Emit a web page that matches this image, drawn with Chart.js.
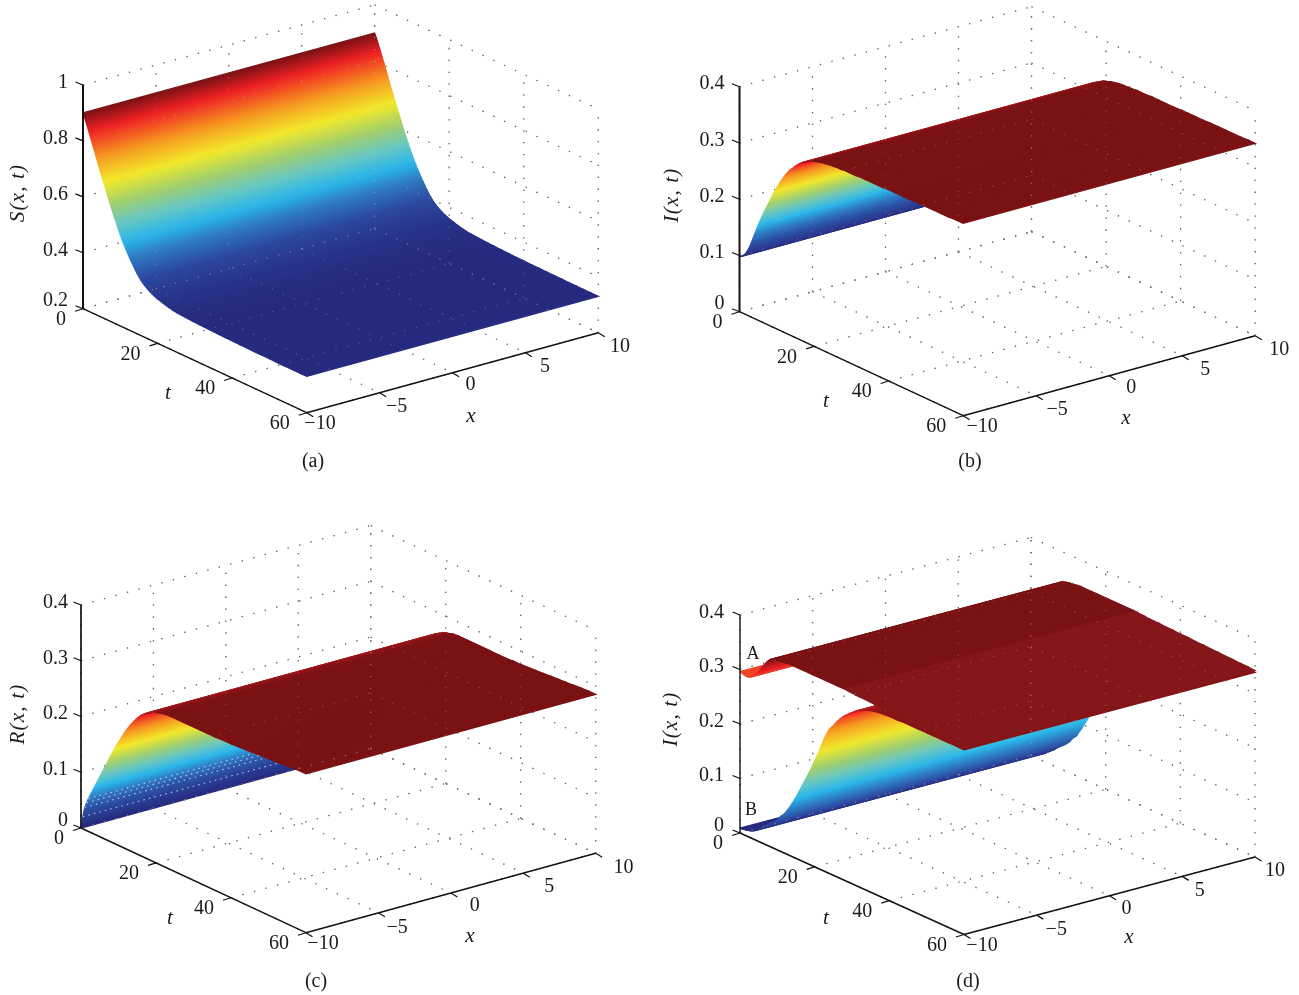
<!DOCTYPE html>
<html>
<head>
<meta charset="utf-8">
<title>Surfaces</title>
<script src="https://cdn.jsdelivr.net/npm/chart.js@4/dist/chart.umd.min.js"></script>
<style>
  html, body { margin: 0; padding: 0; background: #fff; }
  body { position: relative; width: 1299px; height: 995px; overflow: hidden; }
  canvas { position: absolute; }
</style>
</head>
<body>
<canvas id="panelA" style="left:0;top:0" width="650" height="490"></canvas>
<canvas id="panelB" style="left:650px;top:0" width="649" height="490"></canvas>
<canvas id="panelC" style="left:0;top:490px" width="650" height="505"></canvas>
<canvas id="panelD" style="left:650px;top:490px" width="649" height="505"></canvas>
<script>
const xTicks = [-10, -5, 0, 5, 10];
const tTicks = [0, 20, 40, 60];
const zTicksS = [0.2, 0.4, 0.6, 0.8, 1];
const zTicksI = [0, 0.1, 0.2, 0.3, 0.4];

const tValues = [0, 0.5, 1, 1.5, 2, 2.5, 3, 3.5, 4, 4.5, 5, 5.5, 6, 6.5, 7, 7.5, 8, 8.5, 9, 9.5,
  10, 10.5, 11, 11.5, 12, 12.5, 13, 13.5, 14, 14.5, 15, 15.5, 16, 16.5, 17, 17.5, 18, 18.5, 19, 19.5,
  20, 20.5, 21, 21.5, 22, 22.5, 23, 23.5, 24, 24.5, 25, 25.5, 26, 26.5, 27, 27.5, 28, 28.5, 29, 29.5,
  30, 30.5, 31, 31.5, 32, 34, 36, 38, 40, 42, 44, 46, 48, 50, 52, 54, 56, 58, 60];

const sValues = [0.900, 0.884, 0.865, 0.846, 0.826, 0.807, 0.787, 0.767, 0.746, 0.726, 0.707, 0.688, 0.669, 0.650, 0.631, 0.612, 0.594, 0.577, 0.560, 0.543,
  0.527, 0.512, 0.498, 0.485, 0.472, 0.460, 0.448, 0.437, 0.426, 0.416, 0.407, 0.399, 0.392, 0.386, 0.381, 0.376, 0.372, 0.368, 0.365, 0.362,
  0.359, 0.357, 0.355, 0.353, 0.351, 0.349, 0.347, 0.346, 0.344, 0.343, 0.342, 0.341, 0.341, 0.340, 0.340, 0.339, 0.339, 0.338, 0.338, 0.337,
  0.337, 0.337, 0.336, 0.336, 0.336, 0.335, 0.334, 0.333, 0.333, 0.332, 0.332, 0.331, 0.331, 0.331, 0.330, 0.330, 0.330, 0.330, 0.330];

const iValues = [0.098, 0.100, 0.103, 0.107, 0.113, 0.120, 0.129, 0.139, 0.149, 0.159, 0.169, 0.178, 0.187, 0.196, 0.204, 0.212, 0.220, 0.228, 0.236, 0.244,
  0.251, 0.258, 0.265, 0.271, 0.277, 0.283, 0.288, 0.293, 0.297, 0.301, 0.305, 0.309, 0.312, 0.315, 0.318, 0.320, 0.322, 0.324, 0.326, 0.328,
  0.329, 0.330, 0.331, 0.332, 0.333, 0.334, 0.334, 0.335, 0.335, 0.336, 0.336, 0.336, 0.337, 0.337, 0.337, 0.337, 0.338, 0.338, 0.338, 0.338,
  0.338, 0.338, 0.338, 0.338, 0.339, 0.339, 0.339, 0.339, 0.340, 0.340, 0.340, 0.340, 0.341, 0.341, 0.341, 0.341, 0.341, 0.342, 0.342];

const rValues = [0.000, 0.022, 0.040, 0.050, 0.059, 0.067, 0.075, 0.083, 0.091, 0.099, 0.107, 0.115, 0.123, 0.131, 0.139, 0.147, 0.155, 0.163, 0.171, 0.178,
  0.185, 0.192, 0.199, 0.206, 0.212, 0.218, 0.224, 0.229, 0.234, 0.239, 0.244, 0.248, 0.252, 0.255, 0.258, 0.261, 0.263, 0.265, 0.267, 0.269,
  0.270, 0.271, 0.272, 0.273, 0.274, 0.274, 0.275, 0.275, 0.275, 0.275, 0.275, 0.275, 0.275, 0.275, 0.275, 0.275, 0.275, 0.275, 0.275, 0.275,
  0.275, 0.275, 0.275, 0.275, 0.275, 0.275, 0.275, 0.276, 0.276, 0.277, 0.278, 0.279, 0.280, 0.281, 0.282, 0.283, 0.284, 0.285, 0.285];

const iValuesB = [0.009, 0.009, 0.010, 0.010, 0.011, 0.012, 0.013, 0.015, 0.017, 0.020, 0.023, 0.026, 0.029, 0.032, 0.036, 0.039, 0.042, 0.045, 0.048, 0.051,
  0.055, 0.060, 0.065, 0.069, 0.073, 0.079, 0.085, 0.091, 0.098, 0.105, 0.112, 0.120, 0.128, 0.136, 0.144, 0.152, 0.160, 0.168, 0.176, 0.185,
  0.194, 0.203, 0.212, 0.222, 0.232, 0.242, 0.250, 0.258, 0.265, 0.270, 0.274, 0.280, 0.285, 0.290, 0.294, 0.298, 0.302, 0.305, 0.308, 0.311,
  0.314, 0.317, 0.320, 0.322, 0.324, 0.331, 0.335, 0.337, 0.338, 0.338, 0.339, 0.339, 0.339, 0.339, 0.339, 0.339, 0.339, 0.339, 0.339];

const iValuesA = [0.296, 0.295, 0.294, 0.293, 0.293, 0.294, 0.296, 0.299, 0.303, 0.307, 0.311, 0.317, 0.323, 0.329, 0.334, 0.339, 0.343, 0.345, 0.346, 0.347,
  0.348, 0.348, 0.349, 0.349, 0.350, 0.350, 0.351, 0.351, 0.351, 0.351, 0.351, 0.351, 0.351, 0.351, 0.351, 0.351, 0.351, 0.351, 0.351, 0.351,
  0.351, 0.351, 0.351, 0.351, 0.351, 0.351, 0.351, 0.351, 0.351, 0.351, 0.351, 0.351, 0.351, 0.351, 0.351, 0.351, 0.351, 0.351, 0.350, 0.350,
  0.350, 0.350, 0.349, 0.349, 0.349, 0.349, 0.348, 0.348, 0.347, 0.347, 0.346, 0.346, 0.345, 0.345, 0.344, 0.344, 0.343, 0.343, 0.342];

// jet-like map, as it came out in print
const jetStops = [
  [0, [38, 42, 126]], [0.12, [43, 74, 160]], [0.22, [46, 124, 196]], [0.3, [41, 182, 234]],
  [0.4, [106, 199, 192]], [0.5, [160, 207, 110]], [0.62, [242, 233, 42]], [0.75, [247, 155, 32]],
  [0.9, [238, 32, 36]], [1, [122, 17, 19]]
];

function jet(f) {
  f = Math.max(0, Math.min(1, f));
  for (let i = 1; i < jetStops.length; i++) {
    if (f <= jetStops[i][0]) {
      const a = jetStops[i - 1], b = jetStops[i];
      const k = (f - a[0]) / (b[0] - a[0]);
      const c = a[1].map((v, n) => Math.round(v + (b[1][n] - v) * k));
      return `rgb(${c[0]},${c[1]},${c[2]})`;
    }
  }
  return "rgb(122,17,19)";
}

function project(p, x, t, z) {
  const u = (x + 10) / 20, v = t / 60;
  const h = (z - p.zTicks[0]) / (p.zTicks[p.zTicks.length - 1] - p.zTicks[0]);
  return { x: p.ox + u * p.xv[0] + v * p.tv[0], y: p.oy + u * p.xv[1] + v * p.tv[1] - h * p.zh };
}

function lineSet(data, color, width, dash) {
  return {
    data: data, showLine: true, fill: false, tension: 0, pointRadius: 0, clip: false,
    borderColor: color, borderWidth: width, borderDash: dash || [], borderCapStyle: "butt"
  };
}

function gridSets(p, color) {
  const sets = [];
  const first = p.zTicks[0], top = p.zTicks[p.zTicks.length - 1];
  const add = (a, b) => sets.push(lineSet([a, b], color, 1.2, [1.3, 10.6]));
  xTicks.forEach((x) => {
    add(project(p, x, 0, first), project(p, x, 60, first));
    add(project(p, x, 0, first), project(p, x, 0, top));
  });
  tTicks.forEach((t) => {
    add(project(p, -10, t, first), project(p, 10, t, first));
    add(project(p, 10, t, first), project(p, 10, t, top));
  });
  p.zTicks.forEach((z) => {
    add(project(p, -10, 0, z), project(p, 10, 0, z));
    add(project(p, 10, 0, z), project(p, 10, 60, z));
  });
  return sets;
}

// one strip per t step, shaded from the colour of its near edge to its far edge
function surfaceSets(p, ctx, values, lightFrom) {
  const sets = [];
  const len = Math.hypot(p.xv[0], p.xv[1]);
  const nx = -p.xv[1] / len, ny = p.xv[0] / len;
  for (let i = 0; i < tValues.length - 1; i++) {
    const t0 = tValues[i], t1 = tValues[i + 1], z0 = values[i], z1 = values[i + 1];
    const a = project(p, -10, t0, z0), b = project(p, -10, t1, z1);
    const d = (b.x - a.x) * nx + (b.y - a.y) * ny;
    let fillStyle;
    if (lightFrom !== undefined && t0 >= lightFrom) {
      fillStyle = p.lightColor;
    } else {
      fillStyle = ctx.createLinearGradient(a.x - p.left, a.y - p.top, a.x - p.left + d * nx, a.y - p.top + d * ny);
      fillStyle.addColorStop(0, jet((z0 - p.cMin) / (p.cMax - p.cMin)));
      fillStyle.addColorStop(1, jet((z1 - p.cMin) / (p.cMax - p.cMin)));
    }
    sets.push({
      key: t0,
      data: [a, project(p, 10, t0, z0), project(p, 10, t1, z1), b, a],
      showLine: true, fill: "shape", tension: 0, pointRadius: 0, clip: false,
      backgroundColor: fillStyle, borderColor: fillStyle, borderWidth: 1.3
    });
  }
  return sets;
}

function axisSets(p) {
  const sets = [];
  const first = p.zTicks[0], top = p.zTicks[p.zTicks.length - 1];
  const ink = "#111";
  sets.push(lineSet([project(p, -10, 0, first), project(p, -10, 0, top)], ink, p.zAxisWidth));
  sets.push(lineSet([project(p, -10, 0, first), project(p, -10, 60, first)], ink, 1.4));
  sets.push(lineSet([project(p, -10, 60, first), project(p, 10, 60, first)], ink, 1.4));
  const tick = (q, dx, dy) => sets.push(lineSet([q, { x: q.x + dx, y: q.y + dy }], ink, 1.2));
  p.zTicks.forEach((z) => tick(project(p, -10, 0, z), -7.5, -3));
  tTicks.forEach((t) => tick(project(p, -10, t, first), -8, 2.5));
  xTicks.forEach((x) => tick(project(p, x, 60, first), 6.5, 4));
  return sets;
}

const tickFont = '20px "Liberation Serif"';
const titleFont = 'italic 21px "Liberation Serif"';
const captionFont = '20px "Liberation Serif"';
const xLabelDy = [10, 13, 11, 12.5, 12.5];

const labelPlugin = {
  id: "panelLabels",
  afterDraw(chart) {
    const p = chart.options.plugins.panelLabels.panel;
    const ctx = chart.ctx;
    const put = (text, px, py, font, align) => {
      ctx.font = font;
      ctx.textAlign = align;
      ctx.textBaseline = "middle";
      ctx.fillStyle = "#1a1a1a";
      ctx.fillText(text, px - p.left, py - p.top + 1.5);
    };
    const first = p.zTicks[0];
    p.zTicks.forEach((z, i) => {
      const q = project(p, -10, 0, z);
      put(String(z), q.x + p.zLabelDx, q.y + (i === 0 ? -9 : -4), tickFont, "right");
    });
    tTicks.forEach((t) => {
      const q = project(p, -10, t, first);
      put(String(t), q.x - 17, q.y + 9.5, tickFont, "right");
    });
    xTicks.forEach((x, i) => {
      const q = project(p, x, 60, first);
      put(String(x).replace("-", "\u2212"), q.x + p.xLabelDx[i], q.y + xLabelDy[i], tickFont, "center");
    });
    ctx.save();
    ctx.translate(p.zTitle[0] - p.left, p.zTitle[1] - p.top);
    ctx.rotate(-Math.PI / 2);
    ctx.font = titleFont;
    ctx.letterSpacing = "1.2px";
    ctx.textAlign = "center";
    ctx.textBaseline = "middle";
    ctx.fillStyle = "#1a1a1a";
    ctx.fillText(p.zName, 0, 0);
    ctx.restore();
    ctx.letterSpacing = "0px";
    put("t", p.tTitle[0], p.tTitle[1], titleFont, "center");
    put("x", p.xTitle[0], p.xTitle[1], titleFont, "center");
    put(p.caption, p.capPos[0], p.capPos[1], captionFont, "center");
    (p.notes || []).forEach((n) => put(n[0], n[1], n[2], '18px "Liberation Serif"', "center"));
  }
};

function drawPanel(id, p, surfaces) {
  const canvas = document.getElementById(id);
  const ctx = canvas.getContext("2d");
  let sets = gridSets(p, "#333");
  let strips = [];
  surfaces.forEach((values, n) => {
    const lightFrom = n === surfaces.length - 1 ? p.lightFrom : undefined;
    strips = strips.concat(surfaceSets(p, ctx, values, lightFrom));
  });
  (p.specks || []).forEach((i) => {
    const z = surfaces[0][i], t = tValues[i];
    const row = lineSet([project(p, -10, t, z), project(p, 10, t, z)], "rgba(255,255,255,0.7)", 1.1, [1.5, 4.2]);
    row.key = t + 0.01;
    strips.push(row);
  });
  strips.sort((a, b) => a.key - b.key);
  sets = sets.concat(strips);
  sets = sets.concat(gridSets(p, "rgba(215,190,190,0.3)"));
  sets = sets.concat(axisSets(p));
  // chart.js paints dataset 0 last
  sets.reverse();
  new Chart(canvas, {
    type: "scatter",
    data: { datasets: sets },
    options: {
      responsive: false,
      animation: false,
      events: [],
      layout: { padding: 0 },
      plugins: { legend: { display: false }, tooltip: { enabled: false }, panelLabels: { panel: p } },
      scales: {
        x: { type: "linear", display: false, min: p.left, max: p.left + canvas.width },
        y: { type: "linear", display: false, reverse: true, min: p.top, max: p.top + canvas.height }
      }
    },
    plugins: [labelPlugin]
  });
}

drawPanel("panelA", {
  left: 0, top: 0, ox: 83, oy: 308.7, xv: [291.6, -80], tv: [223.7, 104], zh: 223.7, zTicks: zTicksS, zAxisWidth: 2,
  cMin: 0.335, cMax: 0.9, zLabelDx: -15, xLabelDx: [13.3, 17, 18, 19.5, 21.7],
  zName: "S(x, t)", zTitle: [18, 193], tTitle: [168, 392], xTitle: [471, 415], caption: "(a)", capPos: [313, 460]
}, [sValues]);

drawPanel("panelB", {
  left: 650, top: 0, ox: 739.5, oy: 311.7, xv: [292, -80], tv: [223.7, 104], zh: 225, zTicks: zTicksI, zAxisWidth: 2,
  cMin: 0.098, cMax: 0.33, zLabelDx: -15, xLabelDx: [19, 21, 22, 23, 24],
  zName: "I(x, t)", zTitle: [672, 195], tTitle: [826, 400], xTitle: [1126, 417], caption: "(b)", capPos: [970, 460]
}, [iValues]);

drawPanel("panelC", {
  left: 0, top: 490, ox: 81, oy: 828, xv: [289.7, -79.4], tv: [225, 104.7], zh: 223, zTicks: zTicksI, zAxisWidth: 1.7,
  cMin: 0, cMax: 0.274, zLabelDx: -13, xLabelDx: [17, 18.6, 24, 26, 27.7],
  zName: "R(x, t)", zTitle: [18, 714], tTitle: [170, 917], xTitle: [470, 935], caption: "(c)", capPos: [316, 980],
  specks: [1, 2, 3, 4]
}, [rValues]);

drawPanel("panelD", {
  left: 650, top: 490, ox: 740, oy: 833, xv: [291, -77.5], tv: [224, 101.5], zh: 218, zTicks: zTicksI, zAxisWidth: 1.4,
  cMin: 0.009, cMax: 0.342, lightFrom: 28, lightColor: "rgb(133,23,26)", zLabelDx: -16, xLabelDx: [18, 19.5, 17, 17.5, 20],
  zName: "I(x, t)", zTitle: [671, 719], tTitle: [826, 917], xTitle: [1129, 936], caption: "(d)", capPos: [968, 980],
  notes: [["A", 753, 653], ["B", 751, 809]]
}, [iValuesB, iValuesA]);
</script>
</body>
</html>
